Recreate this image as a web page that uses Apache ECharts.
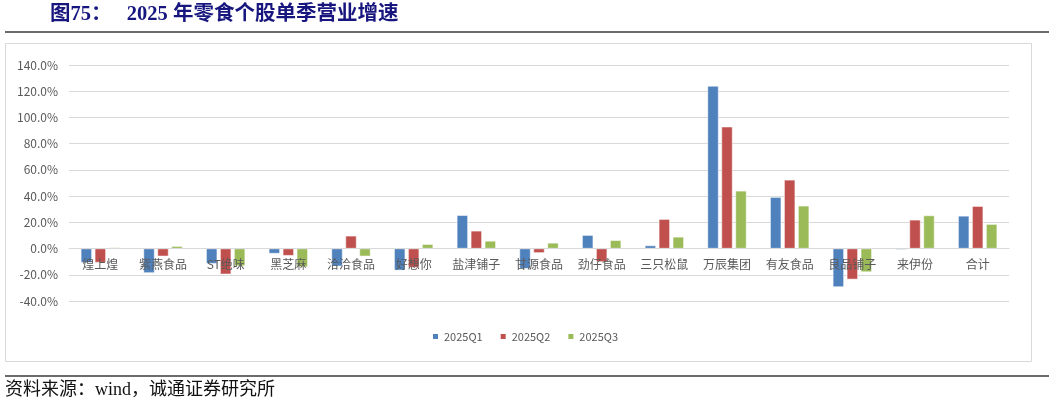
<!DOCTYPE html>
<html>
<head>
<meta charset="utf-8">
<script src="https://cdn.jsdelivr.net/npm/echarts@6/dist/echarts.min.js"></script>
<style>
html, body { margin: 0; padding: 0; background: #fff; }
#main { width: 1055px; height: 406px; }
</style>
</head>
<body>
<div id="main"></div>
<script>
var categories = ['煌上煌', '紫燕食品', 'ST绝味', '黑芝麻', '洽洽食品', '好想你', '盐津铺子', '甘源食品',
    '劲仔食品', '三只松鼠', '万辰集团', '有友食品', '良品铺子', '来伊份', '合计'];
var q1 = [-10.7, -18.6, -11.5, -3.8, -13.5, -16.6, 25.4, -15.3, 10.2, 2.3, 124.0, 39.2, -29.3, -0.8, 24.9];
var q2 = [-10.7, -5.9, -19.6, -5.4, 9.7, -14.5, 13.5, -3.3, -10.2, 22.4, 92.9, 52.4, -23.5, 21.9, 32.3];
var q3 = [0.8, 1.8, -13.3, -14.0, -5.9, 3.3, 5.8, 4.3, 6.3, 8.9, 44.0, 32.6, -17.9, 25.2, 18.6];
var seriesNames = ['2025Q1', '2025Q2', '2025Q3'];
var colors = ['#4F81BD', '#C0504D', '#9BBB59'];

var chart = echarts.init(document.getElementById('main'));

function bar(name, data, color) {
    return {
        name: name,
        type: 'bar',
        data: data,
        barWidth: 11,
        barGap: '27%',
        itemStyle: { color: color, borderColor: '#ffffff', borderWidth: 0.5 }
    };
}

var option = {
    animation: false,
    backgroundColor: '#fff',
    color: colors,
    graphic: [
        { type: 'text', left: 50, top: 4,
          style: { text: '图75：   2025 年零食个股单季营业增速', fill: '#16167e',
                   font: 'bold 20.5px "Liberation Serif", "Noto Sans CJK SC", serif' } },
        { type: 'rect', shape: { x: 5, y: 31, width: 1044, height: 2 }, style: { fill: '#6b6b6b' } },
        { type: 'rect', shape: { x: 5.5, y: 43.5, width: 1026, height: 318 },
          style: { fill: 'none', stroke: '#d9d9d9', lineWidth: 1 } },
        { type: 'rect', shape: { x: 5, y: 375, width: 1044, height: 2 }, style: { fill: '#6b6b6b' } },
        { type: 'text', left: 5, top: 381,
          style: { text: '资料来源：wind，诚通证券研究所', fill: '#111',
                   font: '18px "Liberation Serif", "Noto Sans CJK SC", serif' } }
    ],
    legend: {
        data: seriesNames,
        left: 426,
        top: 326,
        icon: 'rect',
        itemWidth: 7,
        itemHeight: 7,
        itemGap: 16,
        textStyle: { color: '#595959', fontSize: 11, fontFamily: 'Noto Sans CJK SC' }
    },
    grid: { left: 69, right: 46, top: 65, bottom: 105 },
    xAxis: {
        type: 'category',
        data: categories,
        z: 5,
        axisLine: { onZero: true, lineStyle: { color: '#d9d9d9' } },
        axisTick: { show: false },
        axisLabel: { color: '#595959', fontSize: 12, margin: -43, interval: 0,
                     fontFamily: 'Noto Sans CJK SC' }
    },
    yAxis: {
        type: 'value',
        min: -40,
        max: 140,
        interval: 20,
        axisLine: { show: false },
        axisTick: { show: false },
        splitLine: { lineStyle: { color: '#d9d9d9', width: 1 } },
        axisLabel: {
            color: '#595959', fontSize: 12, margin: 11, fontFamily: 'Noto Sans CJK SC',
            formatter: function (v) { return v.toFixed(1) + '%'; }
        }
    },
    series: [
        bar(seriesNames[0], q1, colors[0]),
        bar(seriesNames[1], q2, colors[1]),
        bar(seriesNames[2], q3, colors[2])
    ]
};

chart.setOption(option);
</script>
</body>
</html>
